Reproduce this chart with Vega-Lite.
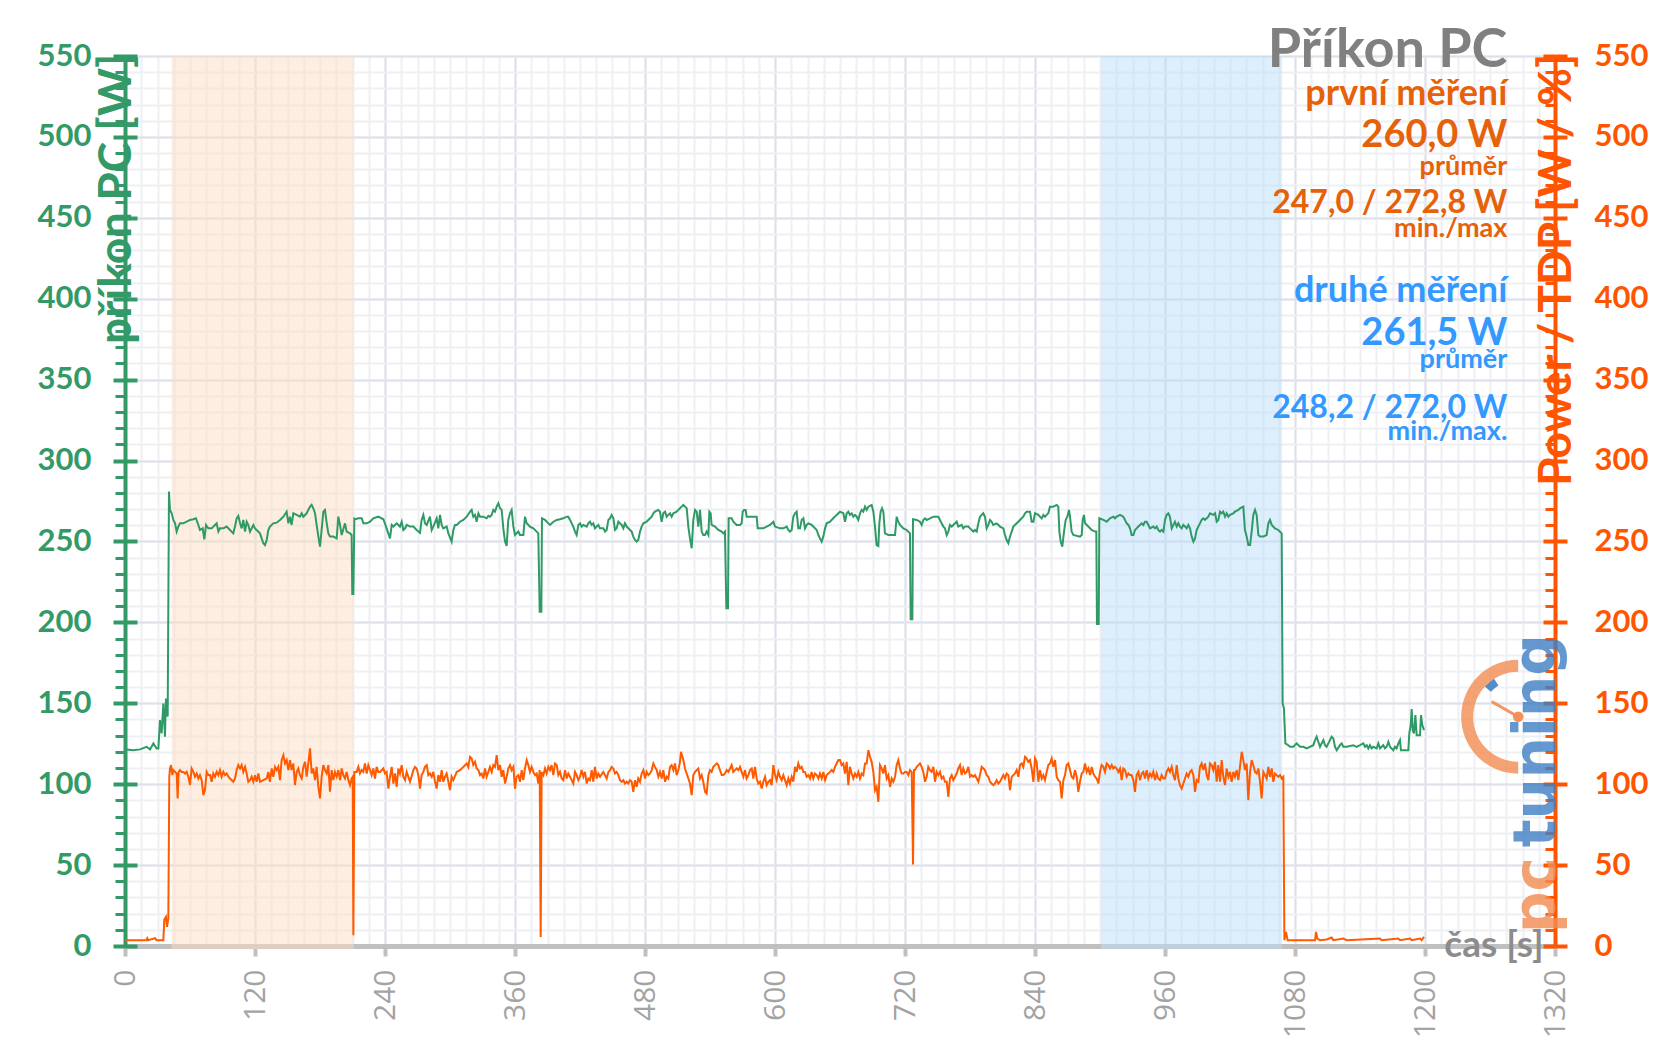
{
"$schema": "https://vega.github.io/schema/vega-lite/v6.json",
"width": 1430, "height": 890,
"autosize": "none",
"padding": {"left": 125, "top": 56, "right": 102, "bottom": 98},
"background": "white",
"config": {"view": {"stroke": null}},
"data": {"values": [{}]},
"datasets": {
"pc": [{"t":0,"v":121.5},{"t":1.5,"v":121.5},{"t":7.7,"v":121.0},{"t":13.8,"v":121.5},{"t":20.0,"v":123.1},{"t":23.1,"v":121.5},{"t":26.2,"v":125.2},{"t":29.2,"v":122.1},{"t":30.8,"v":122.1},{"t":32.3,"v":139.6},{"t":33.8,"v":131.4},{"t":35.4,"v":149.9},{"t":36.9,"v":129.3},{"t":37.8,"v":153.0},{"t":39.4,"v":141.7},{"t":40.6,"v":280.8},{"t":41.5,"v":269.5},{"t":43.1,"v":267.4},{"t":44.6,"v":263.3},{"t":46.2,"v":261.2},{"t":47.7,"v":256.1},{"t":49.2,"v":259.2},{"t":50.8,"v":261.2},{"t":53.8,"v":261.2},{"t":56.9,"v":262.2},{"t":60.0,"v":263.3},{"t":63.1,"v":263.7},{"t":65.5,"v":264.3},{"t":67.7,"v":260.2},{"t":69.2,"v":257.1},{"t":71.7,"v":258.1},{"t":73.2,"v":251.3},{"t":74.8,"v":260.2},{"t":76.9,"v":258.1},{"t":80.0,"v":258.1},{"t":83.1,"v":260.2},{"t":84.6,"v":261.2},{"t":86.2,"v":256.1},{"t":87.7,"v":258.1},{"t":90.8,"v":258.1},{"t":93.8,"v":259.2},{"t":96.9,"v":257.1},{"t":100.0,"v":255.0},{"t":101.5,"v":259.2},{"t":103.1,"v":264.3},{"t":104.6,"v":265.8},{"t":106.2,"v":261.2},{"t":107.7,"v":258.1},{"t":109.2,"v":263.3},{"t":110.8,"v":256.1},{"t":112.3,"v":262.2},{"t":113.8,"v":260.2},{"t":115.4,"v":256.1},{"t":118.5,"v":260.2},{"t":120.0,"v":258.1},{"t":121.5,"v":257.1},{"t":124.6,"v":255.0},{"t":127.7,"v":248.9},{"t":129.2,"v":247.8},{"t":130.8,"v":250.9},{"t":132.3,"v":257.1},{"t":133.8,"v":259.2},{"t":136.9,"v":261.2},{"t":140.0,"v":261.6},{"t":143.1,"v":263.3},{"t":146.2,"v":265.3},{"t":149.2,"v":268.4},{"t":150.8,"v":261.2},{"t":152.3,"v":265.3},{"t":153.8,"v":260.2},{"t":155.4,"v":267.4},{"t":158.5,"v":266.4},{"t":161.5,"v":265.3},{"t":163.1,"v":267.4},{"t":164.6,"v":265.3},{"t":167.7,"v":267.4},{"t":169.2,"v":269.5},{"t":170.8,"v":271.5},{"t":172.3,"v":272.6},{"t":173.8,"v":270.5},{"t":175.4,"v":267.4},{"t":176.9,"v":260.2},{"t":178.5,"v":253.0},{"t":180.0,"v":246.8},{"t":181.5,"v":257.1},{"t":183.1,"v":268.4},{"t":184.6,"v":269.5},{"t":186.2,"v":261.2},{"t":187.7,"v":255.0},{"t":189.2,"v":253.0},{"t":192.3,"v":253.0},{"t":195.4,"v":251.9},{"t":196.9,"v":265.3},{"t":198.5,"v":260.2},{"t":200.0,"v":254.0},{"t":203.1,"v":261.2},{"t":204.6,"v":256.1},{"t":207.7,"v":255.0},{"t":209.2,"v":254.0},{"t":209.8,"v":217.5},{"t":210.8,"v":217.5},{"t":211.7,"v":264.0},{"t":212.3,"v":263.7},{"t":215.4,"v":264.3},{"t":218.5,"v":264.3},{"t":220.0,"v":261.2},{"t":223.1,"v":261.2},{"t":226.2,"v":262.2},{"t":229.2,"v":264.3},{"t":233.8,"v":265.3},{"t":238.5,"v":263.7},{"t":241.5,"v":258.1},{"t":244.6,"v":251.9},{"t":246.2,"v":260.2},{"t":247.7,"v":259.2},{"t":250.8,"v":261.2},{"t":253.8,"v":259.2},{"t":255.4,"v":262.2},{"t":256.9,"v":257.1},{"t":258.5,"v":258.1},{"t":260.0,"v":260.2},{"t":263.1,"v":259.2},{"t":266.2,"v":259.2},{"t":269.2,"v":257.1},{"t":272.3,"v":255.4},{"t":273.8,"v":263.3},{"t":275.4,"v":266.4},{"t":276.9,"v":261.2},{"t":278.5,"v":260.2},{"t":281.5,"v":265.3},{"t":283.1,"v":257.1},{"t":284.6,"v":259.2},{"t":287.7,"v":264.3},{"t":289.2,"v":258.1},{"t":290.8,"v":266.4},{"t":292.3,"v":260.2},{"t":293.8,"v":258.1},{"t":296.9,"v":259.2},{"t":298.5,"v":255.0},{"t":301.5,"v":249.9},{"t":303.1,"v":257.1},{"t":304.6,"v":260.2},{"t":306.2,"v":260.2},{"t":309.2,"v":262.2},{"t":312.3,"v":263.3},{"t":315.4,"v":265.3},{"t":318.5,"v":268.4},{"t":320.0,"v":269.5},{"t":321.5,"v":265.3},{"t":323.1,"v":266.4},{"t":324.6,"v":262.2},{"t":326.2,"v":267.4},{"t":327.7,"v":265.3},{"t":330.8,"v":265.3},{"t":333.8,"v":264.3},{"t":335.4,"v":265.8},{"t":336.9,"v":265.3},{"t":338.5,"v":266.4},{"t":340.0,"v":269.5},{"t":341.5,"v":268.4},{"t":343.1,"v":271.5},{"t":344.6,"v":273.6},{"t":346.2,"v":270.5},{"t":347.7,"v":269.5},{"t":349.2,"v":258.1},{"t":350.8,"v":249.9},{"t":352.3,"v":247.2},{"t":353.8,"v":263.3},{"t":355.4,"v":267.4},{"t":356.9,"v":269.5},{"t":358.5,"v":259.2},{"t":360.0,"v":254.0},{"t":363.1,"v":256.1},{"t":364.6,"v":254.0},{"t":367.7,"v":254.0},{"t":369.2,"v":265.3},{"t":370.8,"v":261.2},{"t":373.8,"v":259.2},{"t":376.9,"v":258.1},{"t":380.0,"v":256.1},{"t":381.5,"v":255.0},{"t":382.8,"v":206.6},{"t":384.3,"v":206.6},{"t":384.9,"v":264.3},{"t":387.7,"v":263.3},{"t":390.8,"v":261.2},{"t":392.3,"v":260.2},{"t":395.4,"v":262.2},{"t":398.5,"v":263.3},{"t":401.5,"v":263.7},{"t":404.6,"v":264.3},{"t":407.7,"v":265.3},{"t":409.2,"v":265.3},{"t":410.8,"v":263.3},{"t":412.3,"v":261.2},{"t":413.8,"v":259.2},{"t":415.4,"v":256.1},{"t":416.9,"v":254.0},{"t":418.5,"v":260.2},{"t":420.0,"v":261.2},{"t":421.5,"v":259.2},{"t":423.1,"v":260.2},{"t":426.2,"v":259.2},{"t":427.7,"v":261.2},{"t":429.2,"v":262.2},{"t":430.8,"v":260.2},{"t":432.3,"v":261.2},{"t":433.8,"v":258.1},{"t":435.4,"v":259.2},{"t":436.9,"v":260.2},{"t":438.5,"v":258.1},{"t":441.5,"v":258.1},{"t":443.1,"v":256.1},{"t":444.6,"v":257.1},{"t":446.2,"v":263.3},{"t":447.7,"v":264.3},{"t":449.2,"v":266.4},{"t":450.8,"v":264.3},{"t":452.3,"v":257.1},{"t":453.8,"v":258.1},{"t":455.4,"v":262.2},{"t":456.9,"v":261.2},{"t":458.5,"v":260.2},{"t":460.0,"v":258.1},{"t":461.5,"v":261.2},{"t":463.1,"v":259.2},{"t":466.2,"v":257.1},{"t":467.7,"v":256.1},{"t":469.2,"v":253.0},{"t":470.8,"v":250.9},{"t":472.3,"v":249.9},{"t":473.8,"v":250.9},{"t":475.4,"v":256.1},{"t":476.9,"v":259.2},{"t":478.5,"v":261.2},{"t":481.5,"v":262.2},{"t":483.1,"v":263.3},{"t":484.6,"v":264.3},{"t":486.2,"v":265.3},{"t":487.7,"v":267.4},{"t":489.2,"v":268.4},{"t":492.3,"v":269.5},{"t":493.8,"v":268.4},{"t":495.4,"v":262.2},{"t":496.9,"v":267.4},{"t":498.5,"v":268.4},{"t":500.0,"v":265.3},{"t":501.5,"v":266.4},{"t":503.1,"v":267.4},{"t":504.6,"v":265.3},{"t":506.2,"v":267.4},{"t":509.2,"v":268.4},{"t":510.8,"v":269.5},{"t":512.3,"v":270.5},{"t":513.8,"v":271.5},{"t":515.4,"v":272.6},{"t":516.9,"v":271.5},{"t":518.5,"v":270.5},{"t":520.0,"v":259.2},{"t":521.5,"v":251.9},{"t":523.1,"v":245.8},{"t":524.6,"v":263.3},{"t":526.2,"v":269.5},{"t":527.7,"v":268.4},{"t":529.2,"v":259.2},{"t":530.8,"v":269.5},{"t":532.3,"v":256.1},{"t":533.8,"v":254.0},{"t":535.4,"v":254.0},{"t":536.9,"v":256.1},{"t":538.5,"v":254.0},{"t":539.4,"v":268.4},{"t":540.6,"v":267.4},{"t":541.5,"v":260.2},{"t":544.6,"v":259.2},{"t":547.7,"v":257.1},{"t":550.8,"v":256.1},{"t":552.3,"v":255.0},{"t":553.8,"v":256.1},{"t":555.1,"v":208.7},{"t":556.6,"v":208.7},{"t":557.2,"v":264.3},{"t":560.0,"v":264.3},{"t":561.5,"v":262.2},{"t":564.6,"v":260.2},{"t":567.7,"v":260.2},{"t":569.2,"v":261.2},{"t":570.2,"v":268.4},{"t":571.4,"v":269.5},{"t":572.9,"v":269.5},{"t":573.8,"v":265.3},{"t":583.1,"v":265.3},{"t":584.0,"v":258.1},{"t":589.2,"v":258.1},{"t":592.3,"v":259.2},{"t":595.4,"v":260.2},{"t":598.5,"v":262.2},{"t":600.0,"v":259.2},{"t":604.6,"v":258.1},{"t":607.7,"v":258.1},{"t":610.8,"v":259.2},{"t":612.3,"v":257.1},{"t":613.8,"v":256.1},{"t":615.4,"v":257.1},{"t":616.9,"v":265.3},{"t":618.5,"v":267.4},{"t":620.0,"v":268.4},{"t":621.5,"v":258.1},{"t":623.1,"v":258.1},{"t":624.6,"v":263.3},{"t":626.2,"v":264.3},{"t":627.7,"v":258.1},{"t":629.2,"v":260.2},{"t":630.8,"v":261.2},{"t":633.8,"v":260.2},{"t":635.4,"v":259.2},{"t":636.9,"v":258.1},{"t":638.5,"v":257.1},{"t":640.0,"v":254.0},{"t":641.5,"v":251.9},{"t":643.1,"v":249.9},{"t":644.6,"v":253.0},{"t":646.2,"v":258.1},{"t":647.7,"v":261.2},{"t":650.8,"v":262.2},{"t":653.8,"v":264.3},{"t":656.9,"v":266.4},{"t":660.0,"v":268.4},{"t":663.1,"v":267.4},{"t":664.6,"v":262.2},{"t":666.2,"v":267.4},{"t":667.7,"v":268.4},{"t":669.2,"v":266.4},{"t":670.8,"v":267.4},{"t":672.3,"v":265.3},{"t":673.8,"v":266.4},{"t":675.4,"v":265.3},{"t":676.9,"v":263.3},{"t":678.5,"v":267.4},{"t":680.0,"v":269.5},{"t":681.5,"v":268.4},{"t":683.1,"v":271.5},{"t":684.6,"v":269.5},{"t":686.2,"v":271.5},{"t":689.2,"v":272.6},{"t":690.8,"v":268.4},{"t":692.3,"v":259.2},{"t":693.8,"v":247.8},{"t":695.4,"v":247.2},{"t":696.3,"v":261.2},{"t":697.5,"v":268.4},{"t":698.8,"v":270.5},{"t":700.0,"v":268.4},{"t":701.5,"v":255.0},{"t":704.6,"v":254.0},{"t":707.7,"v":254.0},{"t":710.8,"v":254.0},{"t":712.3,"v":265.3},{"t":713.8,"v":262.2},{"t":715.4,"v":260.2},{"t":718.5,"v":258.1},{"t":721.5,"v":257.1},{"t":724.6,"v":255.0},{"t":725.2,"v":201.9},{"t":726.8,"v":201.9},{"t":727.4,"v":263.7},{"t":730.8,"v":263.3},{"t":733.8,"v":262.2},{"t":735.4,"v":260.2},{"t":736.9,"v":263.3},{"t":738.5,"v":264.3},{"t":740.0,"v":263.3},{"t":743.1,"v":264.3},{"t":746.2,"v":265.3},{"t":750.8,"v":265.3},{"t":752.3,"v":263.3},{"t":753.8,"v":261.2},{"t":755.4,"v":259.2},{"t":756.9,"v":258.1},{"t":758.5,"v":254.0},{"t":760.0,"v":256.1},{"t":761.5,"v":260.2},{"t":763.1,"v":259.2},{"t":764.6,"v":260.2},{"t":766.2,"v":261.2},{"t":767.7,"v":262.2},{"t":769.2,"v":259.2},{"t":772.3,"v":260.2},{"t":773.8,"v":258.1},{"t":775.4,"v":259.2},{"t":778.5,"v":259.2},{"t":780.0,"v":258.1},{"t":783.1,"v":256.1},{"t":784.6,"v":257.1},{"t":786.2,"v":256.1},{"t":787.7,"v":261.2},{"t":789.2,"v":265.3},{"t":790.8,"v":266.4},{"t":792.3,"v":267.4},{"t":793.8,"v":265.3},{"t":795.4,"v":258.1},{"t":796.9,"v":260.2},{"t":798.5,"v":263.3},{"t":800.0,"v":262.2},{"t":801.5,"v":260.2},{"t":804.6,"v":261.2},{"t":806.2,"v":260.2},{"t":807.7,"v":259.2},{"t":810.8,"v":258.1},{"t":812.3,"v":254.0},{"t":813.8,"v":250.9},{"t":815.4,"v":248.9},{"t":816.9,"v":253.0},{"t":818.5,"v":256.1},{"t":820.0,"v":259.2},{"t":823.1,"v":261.2},{"t":824.6,"v":262.2},{"t":826.2,"v":263.3},{"t":827.7,"v":264.3},{"t":829.2,"v":265.3},{"t":830.8,"v":267.4},{"t":832.3,"v":268.4},{"t":835.4,"v":268.4},{"t":836.9,"v":262.2},{"t":838.5,"v":262.2},{"t":840.0,"v":267.4},{"t":843.1,"v":266.4},{"t":844.6,"v":265.3},{"t":846.2,"v":264.3},{"t":847.7,"v":266.4},{"t":849.2,"v":265.3},{"t":850.8,"v":266.4},{"t":852.3,"v":267.4},{"t":853.8,"v":271.5},{"t":856.9,"v":271.5},{"t":860.0,"v":272.6},{"t":861.5,"v":271.5},{"t":862.5,"v":256.1},{"t":863.7,"v":249.9},{"t":865.2,"v":246.8},{"t":866.8,"v":256.1},{"t":868.3,"v":263.3},{"t":869.8,"v":265.3},{"t":871.4,"v":269.5},{"t":872.3,"v":265.3},{"t":873.8,"v":256.1},{"t":875.4,"v":254.0},{"t":881.5,"v":253.0},{"t":883.1,"v":254.0},{"t":884.0,"v":263.3},{"t":885.2,"v":266.4},{"t":886.2,"v":261.2},{"t":889.2,"v":259.2},{"t":892.3,"v":257.1},{"t":895.4,"v":256.1},{"t":896.6,"v":256.1},{"t":897.2,"v":199.0},{"t":898.8,"v":199.0},{"t":899.4,"v":264.3},{"t":903.1,"v":263.3},{"t":906.2,"v":262.2},{"t":909.2,"v":264.3},{"t":912.3,"v":265.3},{"t":913.8,"v":264.3},{"t":915.4,"v":265.3},{"t":918.5,"v":266.4},{"t":921.5,"v":265.3},{"t":923.1,"v":263.3},{"t":924.6,"v":261.2},{"t":926.2,"v":260.2},{"t":927.7,"v":258.1},{"t":929.2,"v":254.0},{"t":930.8,"v":254.0},{"t":932.3,"v":257.1},{"t":933.8,"v":258.1},{"t":935.4,"v":259.2},{"t":936.9,"v":260.2},{"t":938.5,"v":261.2},{"t":940.0,"v":260.2},{"t":941.5,"v":262.2},{"t":943.1,"v":262.2},{"t":944.6,"v":260.2},{"t":946.2,"v":258.1},{"t":949.2,"v":259.2},{"t":950.8,"v":258.1},{"t":952.3,"v":259.2},{"t":953.8,"v":257.1},{"t":955.4,"v":256.1},{"t":956.9,"v":257.1},{"t":958.5,"v":256.1},{"t":960.0,"v":263.3},{"t":961.5,"v":266.4},{"t":963.1,"v":267.4},{"t":964.6,"v":265.3},{"t":966.2,"v":258.1},{"t":967.7,"v":260.2},{"t":969.2,"v":262.2},{"t":970.8,"v":259.2},{"t":972.3,"v":261.2},{"t":973.8,"v":259.2},{"t":975.4,"v":258.1},{"t":976.9,"v":260.2},{"t":978.5,"v":259.2},{"t":980.0,"v":258.1},{"t":981.5,"v":260.2},{"t":983.1,"v":258.1},{"t":984.6,"v":253.0},{"t":986.2,"v":249.9},{"t":987.7,"v":251.9},{"t":989.2,"v":257.1},{"t":990.8,"v":259.2},{"t":992.3,"v":261.2},{"t":993.8,"v":263.3},{"t":995.4,"v":264.3},{"t":996.9,"v":263.3},{"t":998.5,"v":264.3},{"t":1000.0,"v":265.3},{"t":1001.5,"v":267.4},{"t":1004.6,"v":266.4},{"t":1006.2,"v":267.4},{"t":1007.7,"v":262.2},{"t":1009.2,"v":263.3},{"t":1010.8,"v":268.4},{"t":1012.3,"v":267.4},{"t":1013.8,"v":268.4},{"t":1015.4,"v":265.3},{"t":1016.9,"v":267.4},{"t":1018.5,"v":265.3},{"t":1020.0,"v":266.4},{"t":1023.1,"v":267.4},{"t":1024.6,"v":268.4},{"t":1027.7,"v":269.5},{"t":1029.2,"v":270.5},{"t":1032.3,"v":271.5},{"t":1033.8,"v":257.1},{"t":1035.4,"v":253.0},{"t":1036.9,"v":247.8},{"t":1038.5,"v":247.8},{"t":1040.0,"v":256.1},{"t":1041.5,"v":266.4},{"t":1043.1,"v":269.5},{"t":1044.6,"v":266.4},{"t":1046.2,"v":254.0},{"t":1047.7,"v":253.0},{"t":1050.8,"v":253.0},{"t":1053.8,"v":254.0},{"t":1055.4,"v":261.2},{"t":1056.9,"v":263.3},{"t":1058.5,"v":260.2},{"t":1061.5,"v":258.1},{"t":1064.6,"v":257.1},{"t":1067.7,"v":255.0},{"t":1068.6,"v":149.9},{"t":1069.8,"v":146.8},{"t":1071.1,"v":125.2},{"t":1073.8,"v":124.1},{"t":1075.4,"v":123.1},{"t":1078.5,"v":123.1},{"t":1081.5,"v":125.2},{"t":1084.6,"v":123.1},{"t":1087.7,"v":123.1},{"t":1090.8,"v":122.1},{"t":1096.9,"v":124.1},{"t":1098.5,"v":127.2},{"t":1100.0,"v":129.3},{"t":1101.5,"v":126.2},{"t":1103.1,"v":123.1},{"t":1104.6,"v":125.2},{"t":1106.2,"v":127.2},{"t":1107.7,"v":124.1},{"t":1109.2,"v":123.1},{"t":1110.8,"v":125.2},{"t":1112.3,"v":127.2},{"t":1113.8,"v":129.3},{"t":1115.4,"v":128.3},{"t":1116.9,"v":123.1},{"t":1118.5,"v":121.0},{"t":1121.5,"v":124.1},{"t":1123.1,"v":125.2},{"t":1124.6,"v":123.1},{"t":1127.7,"v":123.1},{"t":1133.8,"v":124.1},{"t":1136.9,"v":123.1},{"t":1140.0,"v":124.1},{"t":1143.1,"v":125.2},{"t":1144.6,"v":123.1},{"t":1146.2,"v":124.1},{"t":1147.7,"v":122.1},{"t":1149.2,"v":124.1},{"t":1150.8,"v":122.1},{"t":1152.3,"v":123.1},{"t":1155.4,"v":122.1},{"t":1156.9,"v":125.2},{"t":1158.5,"v":122.1},{"t":1160.0,"v":123.1},{"t":1161.5,"v":124.1},{"t":1163.1,"v":122.1},{"t":1164.6,"v":123.1},{"t":1166.2,"v":126.2},{"t":1167.7,"v":123.1},{"t":1169.2,"v":122.1},{"t":1170.8,"v":121.0},{"t":1172.3,"v":123.1},{"t":1173.8,"v":122.1},{"t":1175.4,"v":125.2},{"t":1176.9,"v":127.2},{"t":1177.8,"v":121.0},{"t":1184.6,"v":121.0},{"t":1185.5,"v":131.4},{"t":1186.8,"v":136.5},{"t":1187.7,"v":146.4},{"t":1188.6,"v":133.4},{"t":1189.8,"v":131.4},{"t":1191.1,"v":142.7},{"t":1192.3,"v":130.3},{"t":1195.4,"v":130.3},{"t":1196.3,"v":142.7},{"t":1197.5,"v":136.5},{"t":1199.1,"v":133.4}],
"tdp": [{"t":0,"v":3.6},{"t":20.0,"v":3.6},{"t":20.6,"v":4.8},{"t":21.5,"v":3.6},{"t":27.7,"v":4.8},{"t":29.2,"v":3.6},{"t":35.4,"v":3.6},{"t":36.3,"v":16.3},{"t":37.8,"v":18.0},{"t":38.8,"v":11.8},{"t":40.0,"v":17.0},{"t":40.9,"v":104.6},{"t":41.5,"v":109.7},{"t":42.5,"v":111.8},{"t":43.7,"v":105.6},{"t":44.6,"v":108.7},{"t":46.2,"v":107.6},{"t":47.7,"v":106.6},{"t":48.6,"v":91.2},{"t":49.5,"v":107.6},{"t":50.8,"v":108.7},{"t":52.3,"v":107.6},{"t":53.8,"v":107.6},{"t":55.4,"v":106.6},{"t":56.9,"v":107.6},{"t":58.5,"v":104.6},{"t":60.0,"v":99.4},{"t":61.5,"v":109.7},{"t":63.1,"v":107.6},{"t":64.6,"v":104.6},{"t":66.2,"v":106.6},{"t":67.7,"v":103.5},{"t":69.2,"v":105.6},{"t":70.8,"v":102.5},{"t":72.3,"v":93.2},{"t":73.8,"v":96.3},{"t":75.4,"v":107.6},{"t":76.9,"v":105.6},{"t":78.5,"v":105.6},{"t":80.0,"v":101.5},{"t":81.5,"v":106.6},{"t":83.1,"v":104.6},{"t":84.6,"v":107.6},{"t":86.2,"v":105.6},{"t":87.7,"v":108.7},{"t":89.2,"v":104.6},{"t":90.8,"v":107.6},{"t":92.3,"v":105.6},{"t":93.8,"v":106.6},{"t":95.4,"v":104.6},{"t":96.9,"v":103.5},{"t":100.0,"v":101.5},{"t":101.5,"v":103.5},{"t":103.1,"v":108.7},{"t":104.6,"v":111.8},{"t":106.2,"v":109.7},{"t":107.7,"v":111.8},{"t":109.2,"v":107.6},{"t":110.8,"v":110.7},{"t":112.3,"v":106.6},{"t":113.8,"v":101.5},{"t":115.4,"v":102.5},{"t":116.9,"v":104.6},{"t":118.5,"v":101.5},{"t":120.0,"v":105.6},{"t":121.5,"v":101.5},{"t":123.1,"v":106.6},{"t":124.6,"v":101.5},{"t":127.7,"v":102.5},{"t":130.8,"v":103.5},{"t":132.3,"v":107.6},{"t":133.8,"v":101.5},{"t":135.4,"v":109.7},{"t":136.9,"v":104.6},{"t":138.5,"v":110.7},{"t":140.0,"v":108.7},{"t":141.5,"v":110.7},{"t":143.1,"v":102.5},{"t":144.6,"v":114.9},{"t":146.2,"v":117.9},{"t":147.7,"v":112.8},{"t":149.2,"v":114.9},{"t":150.8,"v":108.7},{"t":152.3,"v":114.9},{"t":153.8,"v":108.7},{"t":155.4,"v":112.8},{"t":156.9,"v":99.4},{"t":158.5,"v":107.6},{"t":160.0,"v":109.7},{"t":161.5,"v":105.6},{"t":163.1,"v":103.5},{"t":164.6,"v":110.7},{"t":166.2,"v":113.8},{"t":167.7,"v":104.6},{"t":169.2,"v":112.8},{"t":170.8,"v":122.1},{"t":172.3,"v":106.6},{"t":173.8,"v":109.7},{"t":175.4,"v":102.5},{"t":176.9,"v":110.7},{"t":178.5,"v":98.4},{"t":180.0,"v":91.2},{"t":181.5,"v":104.6},{"t":183.1,"v":111.8},{"t":184.6,"v":108.7},{"t":186.2,"v":106.6},{"t":187.7,"v":111.8},{"t":189.2,"v":95.3},{"t":190.8,"v":108.7},{"t":192.3,"v":102.5},{"t":193.8,"v":107.6},{"t":195.4,"v":104.6},{"t":196.9,"v":108.7},{"t":198.5,"v":102.5},{"t":200.0,"v":109.7},{"t":201.5,"v":105.6},{"t":203.1,"v":103.5},{"t":204.6,"v":107.6},{"t":206.2,"v":102.5},{"t":207.7,"v":99.4},{"t":209.2,"v":103.5},{"t":210.2,"v":104.6},{"t":210.8,"v":6.6},{"t":211.7,"v":107.6},{"t":213.8,"v":107.6},{"t":215.4,"v":110.7},{"t":216.9,"v":106.6},{"t":218.5,"v":108.7},{"t":220.0,"v":107.6},{"t":221.5,"v":112.8},{"t":223.1,"v":106.6},{"t":224.6,"v":111.8},{"t":226.2,"v":108.7},{"t":227.7,"v":105.6},{"t":229.2,"v":109.7},{"t":230.8,"v":103.5},{"t":232.3,"v":110.7},{"t":233.8,"v":107.6},{"t":235.4,"v":107.6},{"t":238.5,"v":109.7},{"t":240.0,"v":106.6},{"t":241.5,"v":107.6},{"t":243.1,"v":97.3},{"t":244.6,"v":104.6},{"t":246.2,"v":110.7},{"t":247.7,"v":100.4},{"t":249.2,"v":106.6},{"t":250.8,"v":98.4},{"t":252.3,"v":109.7},{"t":253.8,"v":106.6},{"t":255.4,"v":111.8},{"t":256.9,"v":104.6},{"t":258.5,"v":102.5},{"t":260.0,"v":107.6},{"t":263.1,"v":101.5},{"t":266.2,"v":108.7},{"t":267.7,"v":110.7},{"t":269.2,"v":109.7},{"t":270.8,"v":105.6},{"t":272.3,"v":97.3},{"t":273.8,"v":105.6},{"t":275.4,"v":107.6},{"t":276.9,"v":110.7},{"t":278.5,"v":111.8},{"t":280.0,"v":105.6},{"t":281.5,"v":106.6},{"t":283.1,"v":104.6},{"t":284.6,"v":107.6},{"t":286.2,"v":101.5},{"t":287.7,"v":97.3},{"t":289.2,"v":105.6},{"t":290.8,"v":101.5},{"t":292.3,"v":108.7},{"t":293.8,"v":101.5},{"t":295.4,"v":104.6},{"t":296.9,"v":106.6},{"t":298.5,"v":101.5},{"t":300.0,"v":96.3},{"t":301.5,"v":104.6},{"t":303.1,"v":102.5},{"t":306.2,"v":107.6},{"t":309.2,"v":108.7},{"t":312.3,"v":110.7},{"t":315.4,"v":112.8},{"t":316.9,"v":110.7},{"t":318.5,"v":116.9},{"t":320.0,"v":115.9},{"t":321.5,"v":111.8},{"t":323.1,"v":113.8},{"t":324.6,"v":109.7},{"t":326.2,"v":108.7},{"t":327.7,"v":105.6},{"t":329.2,"v":106.6},{"t":330.8,"v":103.5},{"t":332.3,"v":109.7},{"t":333.8,"v":104.6},{"t":335.4,"v":107.6},{"t":336.9,"v":110.7},{"t":338.5,"v":107.6},{"t":340.0,"v":111.8},{"t":341.5,"v":110.7},{"t":343.1,"v":117.9},{"t":344.6,"v":108.7},{"t":346.2,"v":111.8},{"t":347.7,"v":104.6},{"t":349.2,"v":108.7},{"t":350.8,"v":100.4},{"t":352.3,"v":104.6},{"t":353.8,"v":109.7},{"t":355.4,"v":111.8},{"t":356.9,"v":108.7},{"t":358.5,"v":110.7},{"t":360.0,"v":97.3},{"t":361.5,"v":104.6},{"t":363.1,"v":105.6},{"t":364.6,"v":101.5},{"t":366.2,"v":108.7},{"t":367.7,"v":102.5},{"t":369.2,"v":109.7},{"t":370.8,"v":114.9},{"t":372.3,"v":111.8},{"t":373.8,"v":107.6},{"t":375.4,"v":110.7},{"t":376.9,"v":107.6},{"t":378.5,"v":105.6},{"t":380.0,"v":106.6},{"t":381.5,"v":100.4},{"t":382.8,"v":108.7},{"t":383.7,"v":5.6},{"t":384.6,"v":107.6},{"t":386.2,"v":105.6},{"t":387.7,"v":109.7},{"t":389.2,"v":106.6},{"t":390.8,"v":110.7},{"t":392.3,"v":108.7},{"t":393.8,"v":111.8},{"t":395.4,"v":105.6},{"t":396.9,"v":112.8},{"t":398.5,"v":111.8},{"t":400.0,"v":105.6},{"t":401.5,"v":107.6},{"t":403.1,"v":103.5},{"t":404.6,"v":102.5},{"t":406.2,"v":108.7},{"t":407.7,"v":103.5},{"t":409.2,"v":106.6},{"t":410.8,"v":104.6},{"t":412.3,"v":102.5},{"t":413.8,"v":100.4},{"t":415.4,"v":107.6},{"t":416.9,"v":105.6},{"t":418.5,"v":102.5},{"t":420.0,"v":104.6},{"t":421.5,"v":108.7},{"t":423.1,"v":104.6},{"t":424.6,"v":107.6},{"t":426.2,"v":100.4},{"t":427.7,"v":103.5},{"t":429.2,"v":102.5},{"t":430.8,"v":108.7},{"t":432.3,"v":101.5},{"t":433.8,"v":110.7},{"t":435.4,"v":103.5},{"t":436.9,"v":106.6},{"t":438.5,"v":104.6},{"t":441.5,"v":107.6},{"t":443.1,"v":105.6},{"t":444.6,"v":103.5},{"t":446.2,"v":107.6},{"t":447.7,"v":108.7},{"t":449.2,"v":110.7},{"t":450.8,"v":109.7},{"t":452.3,"v":106.6},{"t":453.8,"v":107.6},{"t":455.4,"v":105.6},{"t":456.9,"v":102.5},{"t":458.5,"v":101.5},{"t":460.0,"v":102.5},{"t":461.5,"v":100.4},{"t":463.1,"v":101.5},{"t":464.6,"v":100.4},{"t":466.2,"v":102.5},{"t":467.7,"v":101.5},{"t":469.2,"v":95.3},{"t":470.8,"v":102.5},{"t":472.3,"v":98.4},{"t":473.8,"v":103.5},{"t":475.4,"v":101.5},{"t":476.9,"v":106.6},{"t":478.5,"v":108.7},{"t":480.0,"v":103.5},{"t":481.5,"v":107.6},{"t":483.1,"v":105.6},{"t":484.6,"v":106.6},{"t":486.2,"v":108.7},{"t":487.7,"v":112.8},{"t":489.2,"v":110.7},{"t":490.8,"v":108.7},{"t":492.3,"v":104.6},{"t":493.8,"v":107.6},{"t":495.4,"v":103.5},{"t":496.9,"v":108.7},{"t":498.5,"v":101.5},{"t":500.0,"v":104.6},{"t":501.5,"v":103.5},{"t":503.1,"v":110.7},{"t":504.6,"v":111.8},{"t":506.2,"v":108.7},{"t":507.7,"v":112.8},{"t":509.2,"v":105.6},{"t":510.8,"v":108.7},{"t":512.3,"v":113.8},{"t":513.2,"v":120.0},{"t":514.2,"v":117.9},{"t":515.4,"v":114.9},{"t":516.9,"v":109.7},{"t":518.5,"v":106.6},{"t":520.0,"v":103.5},{"t":521.5,"v":100.4},{"t":523.1,"v":93.2},{"t":524.6,"v":105.6},{"t":526.2,"v":107.6},{"t":527.7,"v":108.7},{"t":529.2,"v":109.7},{"t":530.8,"v":103.5},{"t":532.3,"v":105.6},{"t":533.8,"v":101.5},{"t":535.4,"v":95.3},{"t":536.9,"v":94.2},{"t":538.5,"v":105.6},{"t":540.0,"v":108.7},{"t":541.5,"v":107.6},{"t":543.1,"v":110.7},{"t":544.6,"v":111.8},{"t":546.2,"v":112.8},{"t":547.7,"v":111.8},{"t":549.2,"v":108.7},{"t":550.8,"v":105.6},{"t":552.3,"v":105.6},{"t":553.8,"v":106.6},{"t":555.4,"v":108.7},{"t":556.9,"v":107.6},{"t":558.5,"v":109.7},{"t":560.0,"v":111.8},{"t":561.5,"v":107.6},{"t":563.1,"v":108.7},{"t":564.6,"v":109.7},{"t":566.2,"v":108.7},{"t":567.7,"v":110.7},{"t":569.2,"v":107.6},{"t":570.8,"v":104.6},{"t":572.3,"v":108.7},{"t":573.8,"v":103.5},{"t":575.4,"v":105.6},{"t":576.9,"v":108.7},{"t":578.5,"v":109.7},{"t":580.0,"v":103.5},{"t":581.5,"v":110.7},{"t":583.1,"v":103.5},{"t":584.6,"v":100.4},{"t":586.2,"v":101.5},{"t":587.7,"v":97.3},{"t":589.2,"v":101.5},{"t":590.8,"v":104.6},{"t":592.3,"v":99.4},{"t":593.8,"v":101.5},{"t":595.4,"v":102.5},{"t":596.9,"v":99.4},{"t":598.5,"v":111.8},{"t":600.0,"v":105.6},{"t":601.5,"v":102.5},{"t":603.1,"v":107.6},{"t":604.6,"v":104.6},{"t":606.2,"v":102.5},{"t":607.7,"v":105.6},{"t":609.2,"v":102.5},{"t":610.8,"v":99.4},{"t":612.3,"v":103.5},{"t":613.8,"v":100.4},{"t":615.4,"v":104.6},{"t":616.9,"v":101.5},{"t":618.5,"v":110.7},{"t":620.0,"v":107.6},{"t":621.5,"v":112.8},{"t":623.1,"v":109.7},{"t":624.6,"v":110.7},{"t":626.2,"v":107.6},{"t":627.7,"v":107.6},{"t":629.2,"v":104.6},{"t":630.8,"v":105.6},{"t":632.3,"v":103.5},{"t":633.8,"v":107.6},{"t":635.4,"v":103.5},{"t":636.9,"v":106.6},{"t":638.5,"v":105.6},{"t":640.0,"v":103.5},{"t":641.5,"v":106.6},{"t":643.1,"v":103.5},{"t":644.6,"v":107.6},{"t":646.2,"v":102.5},{"t":647.7,"v":105.6},{"t":649.2,"v":106.6},{"t":650.8,"v":107.6},{"t":652.3,"v":108.7},{"t":653.8,"v":107.6},{"t":655.4,"v":110.7},{"t":656.9,"v":112.8},{"t":658.5,"v":114.9},{"t":660.0,"v":114.9},{"t":661.5,"v":111.8},{"t":663.1,"v":112.8},{"t":664.6,"v":106.6},{"t":666.2,"v":113.8},{"t":667.7,"v":99.4},{"t":669.2,"v":110.7},{"t":670.8,"v":106.6},{"t":672.3,"v":103.5},{"t":673.8,"v":106.6},{"t":675.4,"v":104.6},{"t":676.9,"v":107.6},{"t":678.5,"v":103.5},{"t":680.0,"v":106.6},{"t":681.5,"v":105.6},{"t":683.1,"v":112.8},{"t":684.6,"v":112.8},{"t":686.2,"v":121.0},{"t":687.7,"v":116.9},{"t":689.2,"v":113.8},{"t":690.8,"v":107.6},{"t":692.3,"v":96.3},{"t":693.8,"v":98.4},{"t":695.4,"v":89.1},{"t":696.9,"v":111.8},{"t":698.5,"v":109.7},{"t":700.0,"v":106.6},{"t":701.5,"v":111.8},{"t":703.1,"v":103.5},{"t":704.6,"v":105.6},{"t":706.2,"v":98.4},{"t":707.7,"v":103.5},{"t":709.2,"v":101.5},{"t":710.8,"v":104.6},{"t":712.3,"v":111.8},{"t":713.8,"v":114.9},{"t":715.4,"v":109.7},{"t":716.9,"v":106.6},{"t":718.5,"v":106.6},{"t":720.0,"v":107.6},{"t":721.5,"v":107.6},{"t":723.1,"v":105.6},{"t":724.6,"v":108.7},{"t":726.2,"v":107.6},{"t":727.4,"v":50.4},{"t":728.3,"v":108.7},{"t":729.2,"v":108.7},{"t":730.8,"v":110.7},{"t":732.3,"v":111.8},{"t":733.8,"v":112.8},{"t":735.4,"v":110.7},{"t":736.9,"v":107.6},{"t":738.5,"v":101.5},{"t":740.0,"v":104.6},{"t":741.5,"v":110.7},{"t":743.1,"v":108.7},{"t":744.6,"v":107.6},{"t":746.2,"v":110.7},{"t":747.7,"v":101.5},{"t":749.2,"v":107.6},{"t":750.8,"v":105.6},{"t":752.3,"v":107.6},{"t":753.8,"v":103.5},{"t":755.4,"v":104.6},{"t":756.9,"v":101.5},{"t":758.5,"v":101.5},{"t":760.0,"v":92.2},{"t":761.5,"v":103.5},{"t":763.1,"v":105.6},{"t":764.6,"v":102.5},{"t":766.2,"v":104.6},{"t":767.7,"v":106.6},{"t":769.2,"v":109.7},{"t":770.8,"v":111.8},{"t":772.3,"v":105.6},{"t":773.8,"v":109.7},{"t":775.4,"v":106.6},{"t":776.9,"v":107.6},{"t":778.5,"v":110.7},{"t":780.0,"v":104.6},{"t":781.5,"v":105.6},{"t":783.1,"v":104.6},{"t":784.6,"v":105.6},{"t":786.2,"v":103.5},{"t":787.7,"v":101.5},{"t":789.2,"v":105.6},{"t":790.8,"v":110.7},{"t":792.3,"v":109.7},{"t":793.8,"v":108.7},{"t":795.4,"v":105.6},{"t":796.9,"v":104.6},{"t":798.5,"v":101.5},{"t":800.0,"v":100.4},{"t":801.5,"v":99.4},{"t":803.1,"v":100.4},{"t":804.6,"v":102.5},{"t":806.2,"v":100.4},{"t":807.7,"v":101.5},{"t":809.2,"v":103.5},{"t":810.8,"v":105.6},{"t":812.3,"v":103.5},{"t":813.8,"v":106.6},{"t":815.4,"v":105.6},{"t":816.9,"v":96.3},{"t":818.5,"v":104.6},{"t":820.0,"v":105.6},{"t":821.5,"v":106.6},{"t":823.1,"v":108.7},{"t":824.6,"v":104.6},{"t":826.2,"v":111.8},{"t":827.7,"v":112.8},{"t":829.2,"v":110.7},{"t":830.8,"v":116.9},{"t":832.3,"v":115.9},{"t":833.8,"v":113.8},{"t":835.4,"v":114.9},{"t":836.9,"v":109.7},{"t":838.5,"v":101.5},{"t":840.0,"v":115.9},{"t":841.5,"v":113.8},{"t":843.1,"v":101.5},{"t":844.6,"v":108.7},{"t":846.2,"v":103.5},{"t":847.7,"v":105.6},{"t":849.2,"v":102.5},{"t":850.8,"v":107.6},{"t":852.3,"v":111.8},{"t":853.8,"v":112.8},{"t":855.4,"v":115.9},{"t":856.9,"v":110.7},{"t":858.5,"v":114.9},{"t":860.0,"v":104.6},{"t":861.5,"v":102.5},{"t":863.1,"v":101.5},{"t":864.6,"v":91.2},{"t":866.2,"v":102.5},{"t":867.7,"v":105.6},{"t":869.2,"v":111.8},{"t":870.8,"v":112.8},{"t":872.3,"v":108.7},{"t":873.8,"v":104.6},{"t":875.4,"v":103.5},{"t":876.9,"v":108.7},{"t":878.5,"v":104.6},{"t":880.0,"v":95.3},{"t":881.5,"v":101.5},{"t":883.1,"v":106.6},{"t":884.6,"v":107.6},{"t":886.2,"v":112.8},{"t":887.7,"v":107.6},{"t":889.2,"v":109.7},{"t":890.8,"v":105.6},{"t":892.3,"v":110.7},{"t":893.8,"v":106.6},{"t":895.4,"v":104.6},{"t":896.9,"v":103.5},{"t":898.5,"v":100.4},{"t":900.0,"v":107.6},{"t":901.5,"v":111.8},{"t":903.1,"v":110.7},{"t":904.6,"v":107.6},{"t":906.2,"v":112.8},{"t":907.7,"v":111.8},{"t":909.2,"v":109.7},{"t":910.8,"v":111.8},{"t":912.3,"v":109.7},{"t":913.8,"v":110.7},{"t":915.4,"v":109.7},{"t":916.9,"v":107.6},{"t":918.5,"v":109.7},{"t":920.0,"v":102.5},{"t":921.5,"v":109.7},{"t":923.1,"v":108.7},{"t":924.6,"v":104.6},{"t":926.2,"v":106.6},{"t":927.7,"v":105.6},{"t":929.2,"v":105.6},{"t":930.8,"v":102.5},{"t":932.3,"v":95.3},{"t":933.8,"v":105.6},{"t":935.4,"v":107.6},{"t":936.9,"v":102.5},{"t":938.5,"v":106.6},{"t":940.0,"v":107.6},{"t":941.5,"v":103.5},{"t":943.1,"v":108.7},{"t":944.6,"v":103.5},{"t":946.2,"v":106.6},{"t":947.7,"v":104.6},{"t":949.2,"v":107.6},{"t":950.8,"v":102.5},{"t":952.3,"v":106.6},{"t":953.8,"v":103.5},{"t":955.4,"v":102.5},{"t":956.9,"v":105.6},{"t":958.5,"v":103.5},{"t":960.0,"v":103.5},{"t":961.5,"v":107.6},{"t":963.1,"v":109.7},{"t":964.6,"v":107.6},{"t":966.2,"v":110.7},{"t":967.7,"v":105.6},{"t":969.2,"v":102.5},{"t":970.8,"v":111.8},{"t":972.3,"v":103.5},{"t":973.8,"v":99.4},{"t":975.4,"v":97.3},{"t":976.9,"v":100.4},{"t":978.5,"v":103.5},{"t":980.0,"v":106.6},{"t":981.5,"v":104.6},{"t":983.1,"v":107.6},{"t":984.6,"v":108.7},{"t":986.2,"v":105.6},{"t":987.7,"v":95.3},{"t":989.2,"v":102.5},{"t":990.8,"v":101.5},{"t":992.3,"v":110.7},{"t":993.8,"v":112.8},{"t":995.4,"v":108.7},{"t":996.9,"v":112.8},{"t":998.5,"v":105.6},{"t":1000.0,"v":102.5},{"t":1001.5,"v":112.8},{"t":1003.1,"v":111.8},{"t":1004.6,"v":108.7},{"t":1006.2,"v":113.8},{"t":1007.7,"v":101.5},{"t":1009.2,"v":111.8},{"t":1010.8,"v":101.5},{"t":1012.3,"v":114.9},{"t":1013.8,"v":104.6},{"t":1015.4,"v":99.4},{"t":1016.9,"v":109.7},{"t":1018.5,"v":104.6},{"t":1020.0,"v":107.6},{"t":1021.5,"v":101.5},{"t":1023.1,"v":107.6},{"t":1024.6,"v":104.6},{"t":1026.2,"v":108.7},{"t":1027.7,"v":102.5},{"t":1029.2,"v":110.7},{"t":1030.8,"v":120.0},{"t":1032.3,"v":114.9},{"t":1033.8,"v":108.7},{"t":1035.4,"v":112.8},{"t":1036.9,"v":90.1},{"t":1038.5,"v":107.6},{"t":1040.0,"v":114.9},{"t":1041.5,"v":111.8},{"t":1043.1,"v":107.6},{"t":1044.6,"v":106.6},{"t":1046.2,"v":109.7},{"t":1047.7,"v":101.5},{"t":1049.2,"v":91.2},{"t":1050.8,"v":107.6},{"t":1052.3,"v":105.6},{"t":1053.8,"v":103.5},{"t":1055.4,"v":110.7},{"t":1056.9,"v":104.6},{"t":1058.5,"v":109.7},{"t":1060.0,"v":101.5},{"t":1061.5,"v":106.6},{"t":1063.1,"v":105.6},{"t":1064.6,"v":104.6},{"t":1066.2,"v":105.6},{"t":1067.7,"v":103.5},{"t":1069.2,"v":104.6},{"t":1070.2,"v":3.6},{"t":1071.7,"v":8.7},{"t":1073.2,"v":3.6},{"t":1098.5,"v":3.6},{"t":1099.4,"v":8.7},{"t":1100.6,"v":4.6},{"t":1103.1,"v":3.6},{"t":1109.2,"v":4.0},{"t":1113.8,"v":5.2},{"t":1115.4,"v":3.6},{"t":1124.6,"v":4.6},{"t":1127.7,"v":3.6},{"t":1158.5,"v":4.6},{"t":1160.0,"v":3.6},{"t":1175.4,"v":4.6},{"t":1176.9,"v":3.6},{"t":1186.2,"v":4.6},{"t":1187.7,"v":3.6},{"t":1195.4,"v":4.6},{"t":1196.9,"v":3.6},{"t":1199.1,"v":5.6}]
},
"resolve": {"axis": {"x": "independent", "y": "independent"}},
"layer": [
{
"data": {"values": [{"start": 43, "end": 211, "run": "první měření"}, {"start": 901, "end": 1068, "run": "druhé měření"}]},
"mark": {"type": "rect", "opacity": 0.5},
"encoding": {
"x": {"field": "start", "type": "quantitative", "scale": {"domain": [0, 1320], "nice": false, "zero": false},
"axis": {"orient": "bottom", "values": [0,15,30,45,60,75,90,105,120,135,150,165,180,195,210,225,240,255,270,285,300,315,330,345,360,375,390,405,420,435,450,465,480,495,510,525,540,555,570,585,600,615,630,645,660,675,690,705,720,735,750,765,780,795,810,825,840,855,870,885,900,915,930,945,960,975,990,1005,1020,1035,1050,1065,1080,1095,1110,1125,1140,1155,1170,1185,1200,1215,1230,1245,1260,1275,1290,1305,1320], "grid": true, "gridColor": "#eef0f4", "gridWidth": 2, "domain": false, "ticks": false, "labels": false, "title": null}},
"x2": {"field": "end"},
"y": {"datum": -2, "type": "quantitative", "scale": {"domain": [0, 550], "nice": false, "zero": false},
"axis": {"orient": "left", "values": [0,10,20,30,40,50,60,70,80,90,100,110,120,130,140,150,160,170,180,190,200,210,220,230,240,250,260,270,280,290,300,310,320,330,340,350,360,370,380,390,400,410,420,430,440,450,460,470,480,490,500,510,520,530,540,550], "grid": true, "gridColor": "#eef0f4", "gridWidth": 2, "domain": false, "ticks": false, "labels": false, "title": null}},
"y2": {"datum": 550},
"color": {"field": "run", "type": "nominal", "scale": {"domain": ["první měření", "druhé měření"], "range": ["#fbddc3", "#bbddf9"]}, "legend": null}
}
},
{
"data": {"name": "pc"},
"mark": {"type": "line", "color": "#2f9a66", "strokeWidth": 2},
"encoding": {
"x": {"field": "t", "type": "quantitative", "scale": {"domain": [0, 1320], "nice": false, "zero": false},
"axis": {"orient": "bottom", "values": [0,120,240,360,480,600,720,840,960,1080,1200,1320], "format": "d", "grid": true, "gridColor": "#dde1e9", "gridWidth": 2, "domain": true, "domainColor": "#c0c0c0", "domainWidth": 5, "ticks": true, "tickColor": "#c0c0c0", "tickWidth": 4, "tickSize": 10, "labelAngle": -90, "labelFont": "Open Sans", "labelFontSize": 30, "labelColor": "#a3a3a3", "labelPadding": 13, "labelFlush": false, "labelOverlap": false, "labelBound": false,
"title": "čas [s]", "titleFont": "Lato", "titleFontSize": 37, "titleFontWeight": "bold", "titleColor": "#8c8c8c", "titleAngle": 0, "titleAlign": "right", "titleBaseline": "alphabetic", "titleX": 1418, "titleY": 10}},
"y": {"field": "v", "type": "quantitative", "scale": {"domain": [0, 550], "nice": false, "zero": false},
"axis": {"orient": "left", "values": [0,50,100,150,200,250,300,350,400,450,500,550], "format": "d", "grid": true, "gridColor": "#dde1e9", "gridWidth": 2, "domain": true, "domainColor": "#339966", "domainWidth": 4, "ticks": true, "tickColor": "#339966", "tickWidth": 4, "tickSize": 12, "labelFont": "Lato", "labelFontSize": 31, "labelFontWeight": "bold", "labelColor": "#339966", "labelPadding": 22, "labelOverlap": false,
"title": "příkon PC [W]", "titleFont": "Lato", "titleFontSize": 46, "titleFontWeight": "bold", "titleColor": "#339966", "titleAngle": -90, "titleAlign": "right", "titleBaseline": "alphabetic", "titleX": 5, "titleY": -3}}
}
},
{
"data": {"name": "tdp"},
"mark": {"type": "line", "color": "#ff5a00", "strokeWidth": 2},
"encoding": {
"x": {"field": "t", "type": "quantitative", "scale": {"domain": [0, 1320], "nice": false, "zero": false}, "axis": null},
"y": {"field": "v", "type": "quantitative", "scale": {"domain": [0, 550], "nice": false, "zero": false},
"axis": {"orient": "right", "values": [0,50,100,150,200,250,300,350,400,450,500,550], "format": "d", "grid": false, "domain": true, "domainColor": "#ff5500", "domainWidth": 4, "ticks": true, "tickColor": "#ff5500", "tickWidth": 4, "tickSize": 12, "labelFont": "Lato", "labelFontSize": 31, "labelFontWeight": "bold", "labelColor": "#ff5500", "labelPadding": 27, "labelOverlap": false,
"title": "Power / TDP [W / %]", "titleFont": "Lato", "titleFontSize": 46, "titleFontWeight": "bold", "titleColor": "#ff5500", "titleAngle": -90, "titleAlign": "right", "titleBaseline": "alphabetic", "titleX": 15, "titleY": -3}}
}
},
{
"mark": {"type": "text", "text": "Příkon PC", "align": "right", "baseline": "alphabetic", "font": "Lato", "fontSize": 54, "fontWeight": "bold", "color": "#808080"},
"encoding": {
"x": {"datum": 1276, "type": "quantitative", "axis": null},
"y": {"datum": 543.5, "type": "quantitative", "axis": {"orient": "left", "values": [0,10,20,30,40,50,60,70,80,90,100,110,120,130,140,150,160,170,180,190,200,210,220,230,240,250,260,270,280,290,300,310,320,330,340,350,360,370,380,390,400,410,420,430,440,450,460,470,480,490,500,510,520,530,540,550], "grid": false, "domain": false, "labels": false, "ticks": true, "tickSize": 10, "tickWidth": 3, "tickColor": "#339966", "title": null}}
}
},
{
"mark": {"type": "text", "text": "první měření", "align": "right", "baseline": "alphabetic", "font": "Lato", "fontSize": 36, "fontWeight": "bold", "color": "#e5620b"},
"encoding": {
"x": {"datum": 1276, "type": "quantitative", "axis": null},
"y": {"datum": 520, "type": "quantitative", "axis": {"orient": "left", "offset": -12, "values": [0,50,100,150,200,250,300,350,400,450,500,550], "grid": false, "domain": false, "labels": false, "ticks": true, "tickSize": 12, "tickWidth": 4, "tickColor": "#339966", "title": null}}
}
},
{
"mark": {"type": "text", "text": "260,0 W", "align": "right", "baseline": "alphabetic", "font": "Lato", "fontSize": 38, "fontWeight": "bold", "color": "#e5620b"},
"encoding": {
"x": {"datum": 1276, "type": "quantitative", "axis": null},
"y": {"datum": 494, "type": "quantitative", "axis": {"orient": "right", "offset": -10, "values": [0,10,20,30,40,50,60,70,80,90,100,110,120,130,140,150,160,170,180,190,200,210,220,230,240,250,260,270,280,290,300,310,320,330,340,350,360,370,380,390,400,410,420,430,440,450,460,470,480,490,500,510,520,530,540,550], "grid": false, "domain": false, "labels": false, "ticks": true, "tickSize": 10, "tickWidth": 3, "tickColor": "#ff5500", "title": null}}
}
},
{
"mark": {"type": "text", "text": "průměr", "align": "right", "baseline": "alphabetic", "font": "Lato", "fontSize": 27, "fontWeight": "bold", "color": "#e5620b"},
"encoding": {
"x": {"datum": 1276, "type": "quantitative", "axis": null},
"y": {"datum": 476.7, "type": "quantitative", "axis": {"orient": "right", "offset": -12, "values": [0,50,100,150,200,250,300,350,400,450,500,550], "grid": false, "domain": false, "labels": false, "ticks": true, "tickSize": 12, "tickWidth": 4, "tickColor": "#ff5500", "title": null}}
}
},
{
"mark": {"type": "text", "text": "247,0 / 272,8 W", "align": "right", "baseline": "alphabetic", "font": "Lato", "fontSize": 32, "fontWeight": "bold", "color": "#e5620b"},
"encoding": {"x": {"datum": 1276, "type": "quantitative", "axis": null}, "y": {"datum": 453.2, "type": "quantitative", "axis": null}}
},
{
"mark": {"type": "text", "text": "min./max", "align": "right", "baseline": "alphabetic", "font": "Lato", "fontSize": 27, "fontWeight": "bold", "color": "#e5620b"},
"encoding": {"x": {"datum": 1276, "type": "quantitative", "axis": null}, "y": {"datum": 438.4, "type": "quantitative", "axis": null}}
},
{
"mark": {"type": "text", "text": "druhé měření", "align": "right", "baseline": "alphabetic", "font": "Lato", "fontSize": 36, "fontWeight": "bold", "color": "#3399ff"},
"encoding": {"x": {"datum": 1276, "type": "quantitative", "axis": null}, "y": {"datum": 398.2, "type": "quantitative", "axis": null}}
},
{
"mark": {"type": "text", "text": "261,5 W", "align": "right", "baseline": "alphabetic", "font": "Lato", "fontSize": 38, "fontWeight": "bold", "color": "#3399ff"},
"encoding": {"x": {"datum": 1276, "type": "quantitative", "axis": null}, "y": {"datum": 371.6, "type": "quantitative", "axis": null}}
},
{
"mark": {"type": "text", "text": "průměr", "align": "right", "baseline": "alphabetic", "font": "Lato", "fontSize": 27, "fontWeight": "bold", "color": "#3399ff"},
"encoding": {"x": {"datum": 1276, "type": "quantitative", "axis": null}, "y": {"datum": 357.4, "type": "quantitative", "axis": null}}
},
{
"mark": {"type": "text", "text": "248,2 / 272,0 W", "align": "right", "baseline": "alphabetic", "font": "Lato", "fontSize": 32, "fontWeight": "bold", "color": "#3399ff"},
"encoding": {"x": {"datum": 1276, "type": "quantitative", "axis": null}, "y": {"datum": 326.5, "type": "quantitative", "axis": null}}
},
{
"mark": {"type": "text", "text": "min./max.", "align": "right", "baseline": "alphabetic", "font": "Lato", "fontSize": 27, "fontWeight": "bold", "color": "#3399ff"},
"encoding": {"x": {"datum": 1276, "type": "quantitative", "axis": null}, "y": {"datum": 312.9, "type": "quantitative", "axis": null}}
},
{
"mark": {"type": "arc", "radius": 57, "radius2": 45, "theta": 3.1416, "theta2": 6.2832, "color": "#f28c52", "opacity": 0.8},
"encoding": {"x": {"datum": 1286, "type": "quantitative", "axis": null}, "y": {"datum": 141.7, "type": "quantitative", "axis": null}}
},
{
"mark": {"type": "arc", "radius": 45, "radius2": 37, "theta": 5.45, "theta2": 5.72, "color": "#3f7fc4", "opacity": 0.9},
"encoding": {"x": {"datum": 1286, "type": "quantitative", "axis": null}, "y": {"datum": 141.7, "type": "quantitative", "axis": null}}
},
{
"mark": {"type": "rule", "color": "#f28c52", "strokeWidth": 3, "opacity": 0.9},
"encoding": {"x": {"datum": 1286, "type": "quantitative", "axis": null}, "y": {"datum": 141.7, "type": "quantitative", "axis": null}, "x2": {"datum": 1261.6}, "y2": {"datum": 151}}
},
{
"mark": {"type": "point", "filled": true, "size": 110, "color": "#f28c52", "opacity": 0.95},
"encoding": {"x": {"datum": 1286, "type": "quantitative", "axis": null}, "y": {"datum": 141.7, "type": "quantitative", "axis": null}}
},
{
"mark": {"type": "text", "text": "pc", "angle": 270, "align": "left", "baseline": "alphabetic", "font": "DejaVu Sans", "fontSize": 58, "fontWeight": "bold", "color": "#f28c52", "opacity": 0.8},
"encoding": {"x": {"datum": 1320, "type": "quantitative", "axis": null}, "y": {"datum": 8, "type": "quantitative", "axis": null}}
},
{
"mark": {"type": "text", "text": "tuning", "angle": 270, "align": "left", "baseline": "alphabetic", "font": "DejaVu Sans", "fontSize": 58, "fontWeight": "bold", "color": "#3f7fc4", "opacity": 0.8},
"encoding": {"x": {"datum": 1320, "type": "quantitative", "axis": null}, "y": {"datum": 61, "type": "quantitative", "axis": null}}
}
]
}
